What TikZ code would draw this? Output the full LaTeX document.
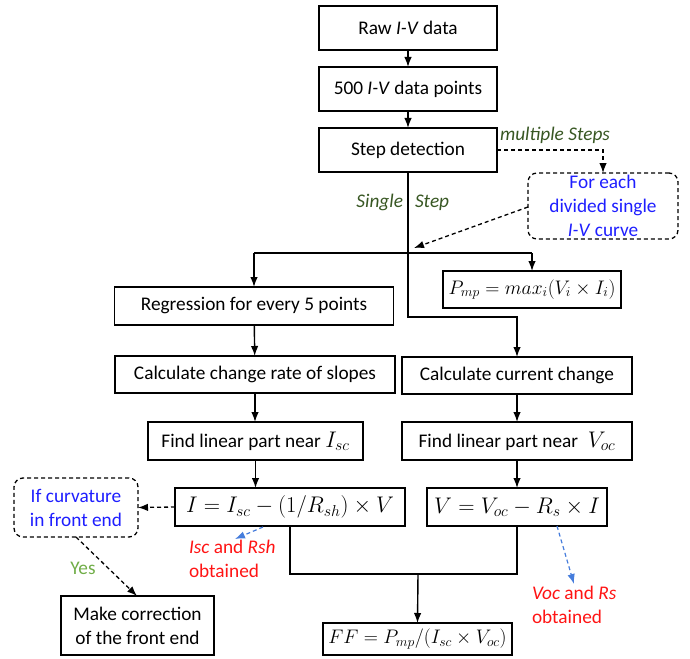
\RequirePackage{fix-cm}
\documentclass[tikz,border=0pt]{standalone}
\usepackage{fontspec}
\setmainfont{Carlito}
\usetikzlibrary{arrows.meta,calc}
\definecolor{dgreen}{RGB}{56,87,35}
\definecolor{lgreen}{RGB}{112,173,71}
\definecolor{tblue}{RGB}{30,30,255}
\definecolor{tred}{RGB}{255,20,20}
\definecolor{ablue}{RGB}{70,125,220}
\newcommand{\bigmath}[1]{{\fontsize{22.6}{27}\selectfont$#1$}}
\newcommand{\midmath}[1]{{\fontsize{19.6}{24}\selectfont$#1$}}
\tikzset{
  x=1pt, y=1pt,
  every node/.style={font=\fontsize{19.3}{24}\selectfont, inner sep=0pt, outer sep=0pt},
  box/.style={draw, line width=1.4pt, align=center},
  dbox/.style={draw, line width=1.3pt, dashed, dash pattern=on 4pt off 3pt, rounded corners=9pt, align=center, text=tblue},
  conn/.style={line width=1.4pt},
  arr/.style={line width=1.4pt, -{Latex[length=10pt,width=7.5pt]}},
  darr/.style={line width=1.3pt, dash pattern=on 4pt off 3pt, -{Latex[length=10pt,width=7.5pt]}},
  barr/.style={line width=1.2pt, draw=ablue, dash pattern=on 4pt off 3pt, -{Latex[length=10pt,width=7.5pt]}, ablue},
  lab/.style={font=\fontsize{19.3}{24}\selectfont\itshape, text=dgreen},
  redt/.style={text=tred, align=left},
}
\begin{document}
\begin{tikzpicture}
\useasboundingbox (0,0) rectangle (690,-658);
% main column
\node[box, minimum width=178, minimum height=44] (raw) at (408,-28) {Raw \textit{I-V} data};
\node[box, minimum width=178, minimum height=44] (pts) at (408,-89) {500 \textit{I-V} data points};
\node[box, minimum width=178, minimum height=44] (step) at (408,-150) {Step detection};
\node[dbox, minimum width=150, minimum height=66] (each) at (603,-206) {For each\\divided single\\\textit{I-V} curve};
\node[lab, anchor=base west] (mult) at (500,-140) {multiple Steps};
\node[lab, anchor=base east] (sing) at (403,-207) {Single};
\node[lab, anchor=base west] (sstep) at (415,-207) {Step};
% left / right branches
\node[box, minimum width=279, minimum height=38] (reg) at (254,-306) {Regression for every 5 points};
\node[box, minimum width=178, minimum height=37] (pmp) at (532,-289.5) {\midmath{P_{mp}=max_i(V_i\times I_i)}};
\node[box, minimum width=280, minimum height=37] (rate) at (255,-374.5) {Calculate change rate of slopes};
\node[box, minimum width=230, minimum height=37] (ccc) at (517,-375.5) {Calculate current change};
\node[box, minimum width=215, minimum height=38] (fisc) at (255.5,-441) {Find linear part near \bigmath{I_{sc}}};
\node[box, minimum width=230, minimum height=38] (fvoc) at (517,-441) {Find linear part near \;\bigmath{V_{oc}}};
\node[box, minimum width=230, minimum height=38] (ieq) at (290,-507) {\bigmath{I=I_{sc}-(1/R_{sh})\times V}};
\node[box, minimum width=180, minimum height=38] (veq) at (517,-507) {\bigmath{V=V_{oc}-R_s\times I}};
\node[dbox, minimum width=124, minimum height=59] (curv) at (76,-507.5) {If curvature\\in front end};
\node[box, minimum width=153, minimum height=59] (corr) at (137.5,-625.5) {Make correction\\of the front end};
\node[box, minimum width=189, minimum height=32] (ff) at (417.5,-639) {\midmath{FF=P_{mp}/(I_{sc}\times V_{oc})}};
\node[text=lgreen, anchor=base] (yes) at (83,-574) {Yes};
\node[redt, anchor=north west] (isc) at (189,-540) {\textit{Isc} and \textit{Rsh}\\obtained};
\node[redt, anchor=north west] (voc) at (532,-586) {\textit{Voc} and \textit{Rs}\\obtained};
% coordinates
\coordinate (jl) at (254,-253);
\coordinate (jr) at (532,-253);
\coordinate (m) at (408,-317);
\coordinate (b) at (418,-574);
\coordinate (ea) at (528,-207);
\coordinate (eb) at (414,-248);
\coordinate (ca) at (76,-537);
\coordinate (cb) at (137,-596);
\coordinate (ia) at (263,-527);
\coordinate (ib) at (235,-539);
\coordinate (va) at (557,-526);
\coordinate (vb) at (574,-584);
% connectors
\draw[arr] (raw) -- (pts);
\draw[arr] (pts) -- (step);
\draw[darr] (step.east) -| (each.north);
\draw[arr] (step.south) -- (m) -| (ccc.north);
\draw[conn] (jl) -- (jr);
\draw[arr] (jl) -- (reg.north);
\draw[arr] (jr) -- (pmp.north);
\draw[darr] (ea) -- (eb);
\draw[arr] (reg) -- (rate);
\draw[arr] (rate.south) -- (rate.south |- fisc.north);
\draw[arr] (ccc) -- (fvoc);
\draw[arr] (fisc.south) -- (fisc.south |- ieq.north);
\draw[arr] (fvoc) -- (veq);
\draw[darr] (ieq.west) -- (curv.east);
\draw[darr] (ca) -- (cb);
\draw[barr] (ia) -- (ib);
\draw[barr] (va) -- (vb);
\draw[conn] (ieq.south) |- (b) -| (veq.south);
\draw[arr] (b) -- (ff.north);
\end{tikzpicture}
\end{document}
